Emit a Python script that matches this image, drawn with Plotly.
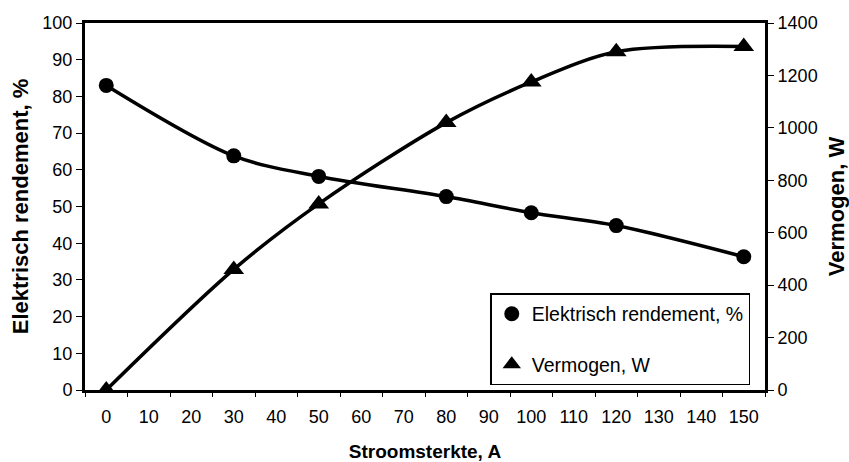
import plotly.graph_objects as go

stroom = [0, 30, 50, 80, 100, 120, 150]
rendement = [83.0, 63.8, 58.2, 52.7, 48.3, 44.8, 36.3]
vermogen = [0, 460, 710, 1020, 1175, 1290, 1310]
x_ticks = list(range(0, 151, 10))
y_left_ticks = list(range(0, 101, 10))
y_right_ticks = list(range(0, 1401, 200))

FONT = "Liberation Sans, Arial, sans-serif"

fig = go.Figure()
fig.add_trace(go.Scatter(x=stroom, y=rendement, mode="lines+markers",
                         line=dict(color="black", width=3.5, shape="spline", smoothing=0.9),
                         marker=dict(symbol="circle", size=15, color="black"),
                         showlegend=False))
fig.add_trace(go.Scatter(x=stroom, y=vermogen, yaxis="y2", mode="lines+markers",
                         line=dict(color="black", width=3.5, shape="spline", smoothing=0.9),
                         marker=dict(symbol="triangle-up", size=18, color="black"),
                         showlegend=False))
fig.add_trace(go.Scatter(x=[None], y=[None], mode="markers", name="Elektrisch rendement, %",
                         marker=dict(symbol="circle", size=15, color="black"), legendgroup="a"))
fig.add_trace(go.Scatter(x=[None], y=[None], mode="markers", name="Vermogen, W",
                         marker=dict(symbol="triangle-up", size=18, color="black"), legendgroup="b"))

fig.update_layout(
    width=849, height=462,
    margin=dict(l=85, r=84, t=23, b=72),
    paper_bgcolor="white", plot_bgcolor="white",
    font=dict(family=FONT, size=18, color="black"),
    xaxis=dict(range=[-5, 155], tickvals=x_ticks, ticktext=[str(v) for v in x_ticks],
               ticks="", showgrid=False, zeroline=False, automargin=False,
               ticklabelstandoff=8,
               showline=True, linecolor="black", linewidth=3, mirror=True,
               minor=dict(tickvals=[v - 5 for v in x_ticks] + [155], ticks="outside",
                          ticklen=4, tickwidth=1, tickcolor="black"),
               title=dict(text="<b>Stroomsterkte, A</b>", font=dict(size=19), standoff=20),
               tickfont=dict(size=18)),
    yaxis=dict(range=[0, 100], tickvals=y_left_ticks, ticks="outside", ticklen=6,
               tickwidth=1, tickcolor="black", showgrid=False, zeroline=False,
               showline=True, linecolor="black", linewidth=3, automargin=False,
               title=dict(text="<b>Elektrisch rendement, %</b>", font=dict(size=22), standoff=8),
               tickfont=dict(size=18)),
    yaxis2=dict(range=[0, 1400], tickvals=y_right_ticks, overlaying="y", side="right",
                ticks="outside", ticklen=6, tickwidth=1, tickcolor="black", automargin=False,
                showgrid=False, zeroline=False, showline=True, linecolor="black", linewidth=3,
                title=dict(text="<b>Vermogen, W</b>", font=dict(size=22), standoff=12),
                tickfont=dict(size=18)),
    legend=dict(x=0.596, y=0.264, xanchor="left", yanchor="top",
                bordercolor="black", borderwidth=1.5, bgcolor="white",
                font=dict(size=19.5), tracegroupgap=22, traceorder="grouped",
                itemwidth=30),
)

fig.write_html("out.html", config={"displayModeBar": False},
               post_script="document.body.style.margin='0';document.body.style.overflow='hidden';")
